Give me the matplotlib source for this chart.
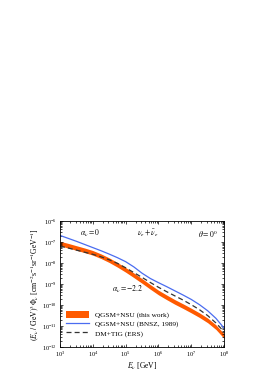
import numpy as np
import matplotlib
matplotlib.use("Agg")
import matplotlib.pyplot as plt

# energies (log10 GeV) and log10 flux
logE = [3.0, 3.25, 3.5, 3.75, 4.0, 4.25, 4.5, 4.75, 5.0, 5.25, 5.5,
        5.75, 6.0, 6.25, 6.5, 6.75, 7.0, 7.25, 7.5, 7.75, 8.0]
qgsm_this = [-7.07, -7.17, -7.28, -7.39, -7.51, -7.67, -7.86, -8.08, -8.32, -8.58, -8.85,
             -9.13, -9.40, -9.63, -9.85, -10.05, -10.26, -10.48, -10.73, -11.05, -11.48]
qgsm_bnsz = [-6.68, -6.82, -6.96, -7.11, -7.26, -7.41, -7.57, -7.74, -7.93, -8.18, -8.48,
             -8.73, -8.93, -9.12, -9.32, -9.52, -9.73, -9.98, -10.27, -10.63, -11.10]
dm_tig = [-7.19, -7.28, -7.38, -7.48, -7.58, -7.70, -7.84, -8.01, -8.22, -8.45, -8.68,
          -8.92, -9.15, -9.36, -9.56, -9.76, -9.98, -10.22, -10.50, -10.85, -11.27]
band = 0.11

plt.rcParams["font.family"] = ["Liberation Serif", "DejaVu Serif"]
plt.rcParams["mathtext.fontset"] = "stix"

E = 10 ** np.array(logE)
fig = plt.figure(figsize=(2.75, 3.9), dpi=100)
ax = fig.add_axes([0.218, 0.110, 0.597, 0.323])

ax.fill_between(E, 10 ** (np.array(qgsm_this) - band), 10 ** (np.array(qgsm_this) + band),
                color="#ff5a00", lw=0, label="QGSM+NSU (this work)")
ax.plot(E, 10 ** np.array(qgsm_bnsz), color="#4a6cf0", lw=0.9, label="QGSM+NSU (BNSZ, 1989)")
ax.plot(E, 10 ** np.array(dm_tig), color="#333333", lw=0.9, ls=(0, (4, 2.5)), label="DM+TIG (ERS)")

ax.set_xscale("log")
ax.set_yscale("log")
ax.set_xlim(1e3, 1e8)
ax.set_ylim(1e-12, 1e-6)
ax.tick_params(which="both", direction="in", top=True, right=True, labelsize=4.5, width=0.5, pad=2)
ax.tick_params(which="major", length=2.5)
ax.tick_params(which="minor", length=1.3)
for s in ax.spines.values():
    s.set_linewidth(0.6)

ax.set_xlabel(r"$E_\nu$ [GeV]", fontsize=5.5, labelpad=1)
ax.set_ylabel(r"$(E_\nu\ /\ \mathrm{GeV})^3\Phi_\nu$ [cm$^{-2}$s$^{-1}$sr$^{-1}$GeV$^{-1}$]",
              fontsize=5.5, labelpad=1)

ax.text(0.12, 0.88, r"$\alpha_\nu = 0$", transform=ax.transAxes, fontsize=5.5)
ax.text(0.47, 0.88, r"$\nu_e + \bar{\nu}_e$", transform=ax.transAxes, fontsize=5.5)
ax.text(0.84, 0.87, r"$\theta = 0^0$", transform=ax.transAxes, fontsize=5.5)
ax.text(0.32, 0.44, r"$\alpha_\nu = -2.2$", transform=ax.transAxes, fontsize=5.5)

leg = ax.legend(loc="lower left", bbox_to_anchor=(0.02, 0.06), fontsize=5.2, frameon=False,
                handlelength=3.2, handleheight=1.2, labelspacing=0.25, borderaxespad=0)

fig.savefig("out.png", dpi=100)
